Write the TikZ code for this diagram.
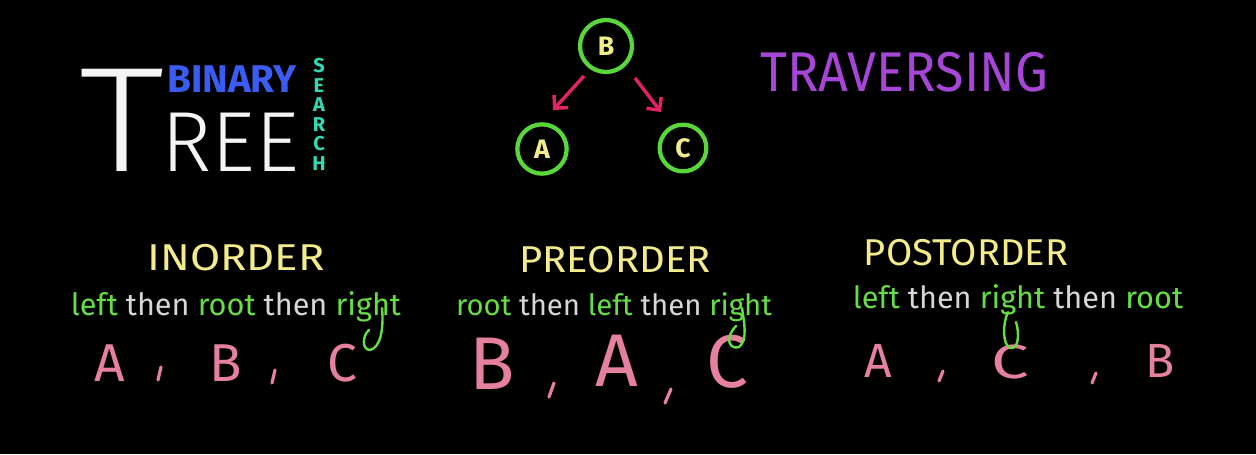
\documentclass[tikz,border=0pt]{standalone}
\usepackage{fontspec}
\setmainfont{Fira Sans}
\usetikzlibrary{arrows.meta}
\definecolor{chalkwhite}{HTML}{F4F4F4}
\definecolor{chalkblue}{HTML}{3A5CF0}
\definecolor{chalkteal}{HTML}{33D9B5}
\definecolor{circgreen}{HTML}{58D63A}
\definecolor{chalkyellow}{HTML}{F4EC8A}
\definecolor{crimson}{HTML}{E0245F}
\definecolor{chalkpurple}{HTML}{A646D6}
\definecolor{txtgreen}{HTML}{66DD44}
\definecolor{txtgrey}{HTML}{D6D6D6}
\definecolor{chalkpink}{HTML}{E5809F}
\tikzset{
  treenode/.style={circle,draw=circgreen,line width=3.2pt,inner sep=0pt,text=chalkyellow,font=\fontsize{20}{20}\selectfont\bfseries},
  treearrow/.style={draw=crimson,line width=2.6pt,-{Straight Barb[length=7pt,width=14pt]}},
  heading/.style={text=chalkyellow,font=\fontsize{28}{28}\selectfont,inner sep=0pt},
  bigletter/.style={text=chalkpink,inner sep=0pt},
  commamark/.style={draw=chalkpink,line width=2.4pt,line cap=round},
  tail/.style={draw=txtgreen,line width=1.8pt,line cap=round}
}
\begin{document}
\begin{tikzpicture}[x=0.75pt,y=-0.75pt]
\fill[black] (0,0) rectangle (1256,454);
\useasboundingbox (0,0) rectangle (1256,454);
% Title
\node[text=chalkwhite,font=\fontsize{112}{112}\selectfont\fontspec{Fira Sans Light},inner sep=0pt,anchor=south west] (T) at (79,172) {\scalebox{1.15}[1]{T}};
\node[text=chalkwhite,font=\fontsize{64}{64}\selectfont\fontspec{Fira Sans Light},inner sep=0pt,anchor=south west] (REE) at (161,172) {REE};
\node[text=chalkblue,font=\fontsize{29}{29}\selectfont\bfseries,inner sep=0pt,anchor=south west] (BIN) at (167,93) {BINARY};
\node[text=chalkteal,font=\fontsize{15}{14.7}\selectfont\bfseries,inner sep=0pt,align=center,anchor=north] (SRCH) at (319,58) {S\\E\\A\\R\\C\\H};
% Tree
\node[treenode,minimum size=39pt] (B) at (606,46) {B};
\node[treenode,minimum size=37pt] (A) at (542,149) {A};
\node[treenode,minimum size=35pt] (C) at (683,148) {C};
\draw[treearrow] (584,76) -- (553,110);
\draw[treearrow] (635,78) -- (661,112);
% Traversing
\node[text=chalkpurple,font=\fontsize{42}{42}\selectfont,inner sep=0pt,anchor=south west] (TRAV) at (760,92) {\scalebox{0.93}[1]{TRAVERSING}};
% Inorder
\node[heading] (IN) at (236,258) {\scalebox{1.17}[1]{INORDER}};
\node[font=\fontsize{23}{23}\selectfont,inner sep=0pt,anchor=base] (INr) at (236,315) {\textcolor{txtgreen}{left} \textcolor{txtgrey}{then} \textcolor{txtgreen}{root} \textcolor{txtgrey}{then} \textcolor{txtgreen}{right}};
\node[bigletter,font=\fontsize{40}{40}\selectfont] (inA) at (110,363) {A};
\node[bigletter,font=\fontsize{40}{40}\selectfont] (inB) at (226,363) {B};
\node[bigletter,font=\fontsize{40}{40}\selectfont] (inC) at (342,363) {C};
\draw[commamark] (161,367) -- (158,380);
\draw[commamark] (275,370) -- (272,383);
\draw[tail] (382,308) .. controls (384,330) and (380,348) .. (370,350) .. controls (362,350) and (362,336) .. (369,330);
% Preorder
\node[heading] (PRE) at (615,260) {\scalebox{1.07}[1]{PREORDER}};
\node[font=\fontsize{22}{22}\selectfont,inner sep=0pt,anchor=base] (PREr) at (614,315) {\textcolor{txtgreen}{root} \textcolor{txtgrey}{then} \textcolor{txtgreen}{left} \textcolor{txtgrey}{then} \textcolor{txtgreen}{right}};
\node[bigletter,font=\fontsize{56}{56}\selectfont] (preB) at (492,364) {B};
\node[bigletter,font=\fontsize{56}{56}\selectfont] (preA) at (617,361) {A};
\node[bigletter,font=\fontsize{56}{56}\selectfont] (preC) at (727,362) {C};
\draw[commamark] (554,383) -- (549,397);
\draw[commamark] (671,389) -- (665,403);
\draw[tail] (742,308) .. controls (744,322) and (748,340) .. (739,347) .. controls (731,350) and (723,340) .. (736,326);
% Postorder
\node[heading] (POST) at (966,253) {\scalebox{1.02}[1]{POSTORDER}};
\node[font=\fontsize{23}{23}\selectfont,inner sep=0pt,anchor=base] (POSTr) at (1018,308) {\textcolor{txtgreen}{left} \textcolor{txtgrey}{then} \textcolor{txtgreen}{right} \textcolor{txtgrey}{then} \textcolor{txtgreen}{root}};
\node[bigletter,font=\fontsize{36}{36}\selectfont] (poA) at (878,361) {A};
\node[bigletter,font=\fontsize{36}{36}\selectfont] (poC) at (1010,362) {\scalebox{1.4}[1]{C}};
\node[bigletter,font=\fontsize{36}{36}\selectfont] (poB) at (1160,361) {B};
\draw[commamark] (943,371) -- (939,381);
\draw[commamark] (1096,373) -- (1092,383);
\draw[tail] (1008,312) .. controls (1002,325) and (1003,345) .. (1010,348) .. controls (1018,350) and (1020,335) .. (1016,322);
\end{tikzpicture}
\end{document}
